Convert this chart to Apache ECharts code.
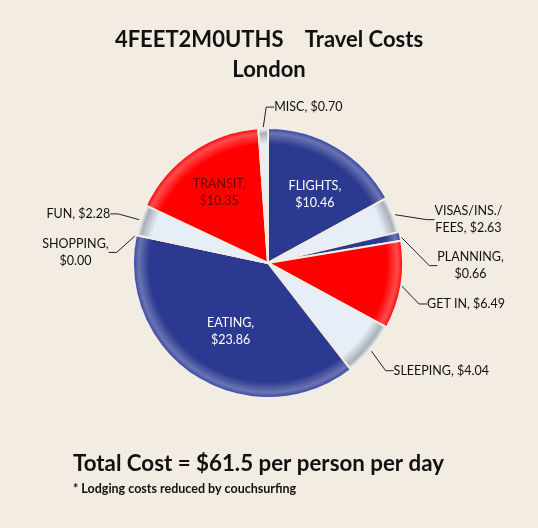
<!DOCTYPE html>
<html><head><meta charset="utf-8">
<script src="https://cdn.jsdelivr.net/npm/echarts@6/dist/echarts.min.js"></script>
<style>html,body{margin:0;padding:0;background:#F2ECE3;}#c{width:538px;height:528px;}</style>
</head><body><div id="c"></div>
<script>
var categories = ['FLIGHTS','VISAS/INS./ FEES','PLANNING','GET IN','SLEEPING','EATING','SHOPPING','FUN','TRANSIT','MISC'];
var values = [10.46, 2.63, 0.66, 6.49, 4.04, 23.86, 0.00, 2.28, 10.35, 0.70];
var colors = ['#2B3990','#E6EEF7','#2B3990','#FF0000','#E6EEF7','#2B3990','#FF0000','#E6EEF7','#FF0000','#E6EEF7'];
var insideLabel = [true,false,false,false,false,true,false,false,true,false];
var wrapLabel = [true,true,true,false,false,true,true,false,true,false];
// label nudges [dx, dy] in px relative to ECharts default label placement
var labelShift = [[11,-8],[7,13],[5,23],[-4,15],[-7,6],[0,9],[4,12],[-1,1],[-9,-12],[93,1]];
var titleText = '4FEET2M0UTHS    Travel Costs\nLondon';
var totalText = 'Total Cost = $61.5 per person per day';
var noteText = '* Lodging costs reduced by couchsurfing';

var CX = 268, CY = 263, R = 135;
var chart = echarts.init(document.getElementById('c'));
var data = categories.map(function(n,i){
  var nm = n.replace('./ ', './\n');
  var v = '$' + values[i].toFixed(2);
  var txt = wrapLabel[i] ? (nm.indexOf('\n')>=0 ? nm + ', ' + v : nm + ',\n' + v) : nm + ', ' + v;
  var c = colors[i];
  var white = c === '#E6EEF7';
  var rim = white ? '#A9B0BA' : echarts.color.lift(c, 0.3);
  var item = {name: n, value: values[i],
    itemStyle: {color: {type:'radial', x:CX, y:CY, r:R, global:true,
      colorStops:[{offset:0,color:c},{offset:0.88,color:c},{offset:0.96,color:rim},{offset:1,color:echarts.color.lift(c, white?-0.3:-0.15)}]}},
    label: {formatter: txt}};
  if (insideLabel[i]) {
    item.label.position = 'inside';
    item.label.color = (c==='#FF0000') ? '#6E0000' : '#FFFFFF';
    item.labelLine = {show:false};
  }
  return item;
});
chart.setOption({
  backgroundColor: '#F2ECE3',
  animation: false,
  title: [{
    text: titleText, left: 'center', top: 20,
    textStyle: {fontFamily: 'Lato', fontWeight: 'bold', fontSize: 22, lineHeight: 30, color: '#111'}
  },{
    text: totalText, left: 68, top: 448,
    textStyle: {fontFamily: 'Lato', fontWeight: 'bold', fontSize: 22.3, color: '#111'}
  },{
    text: noteText, left: 68, top: 477,
    textStyle: {fontFamily: 'Lato', fontWeight: 'bold', fontSize: 12.5, color: '#111'}
  }],
  series: [{
    type: 'pie',
    center: [CX, CY],
    radius: [0, R],
    startAngle: 90,
    clockwise: true,
    data: data,
    itemStyle: {borderColor: '#F2ECE3', borderWidth: 2},
    label: {fontFamily: 'Lato', fontSize: 12.5, color: '#111', lineHeight: 17, alignTo: 'none'},
    labelLine: {length: 22, length2: 8, lineStyle: {color: '#222', width: 1}},
    labelLayout: function(p){
      var s = labelShift[p.dataIndex], r = p.labelRect;
      if (!s) return {};
      return {x: r.x + r.width/2 + s[0], y: r.y + r.height/2 + s[1], align: 'center', verticalAlign: 'middle'};
    }
  }]
});
</script></body></html>
